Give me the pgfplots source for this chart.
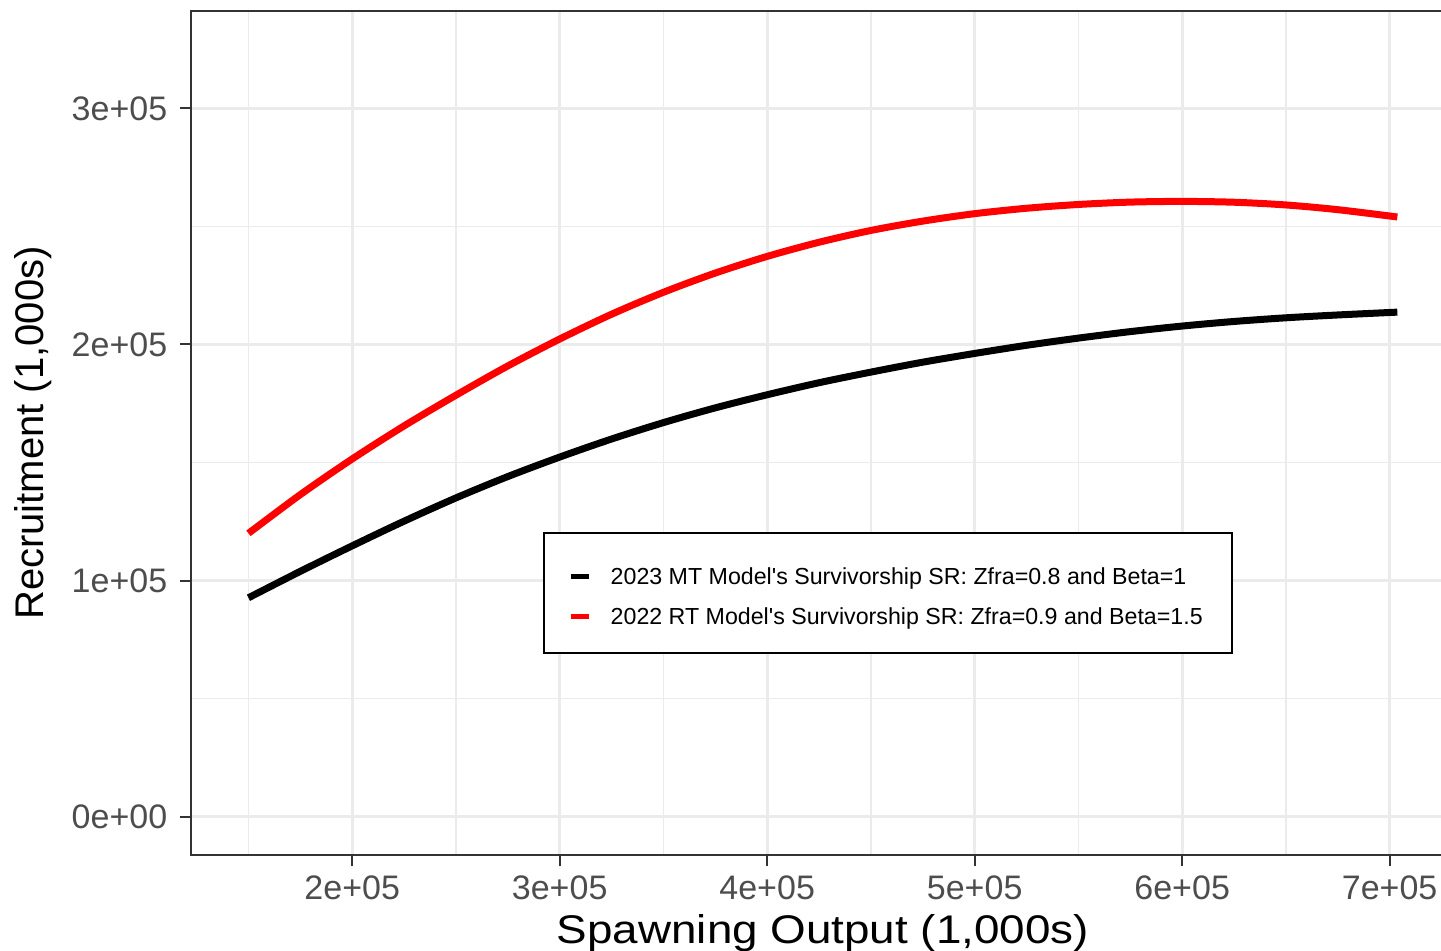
\documentclass[border=0pt]{standalone}
\usepackage{pgfplots}
\pgfplotsset{compat=1.18}
\usepackage{fontspec}
\setmainfont{Liberation Sans}
\newfontfamily\plainfont{Liberation Sans}
\definecolor{gridc}{HTML}{EBEBEB}
\definecolor{borderc}{HTML}{333333}
\definecolor{tickc}{HTML}{4D4D4D}
\definecolor{ggred}{HTML}{FF0000}
\begin{document}
\begin{tikzpicture}
\useasboundingbox (-95.5pt,-47.5pt) rectangle (625pt,427.5pt);
\begin{axis}[
  at={(0,0)}, anchor=south west,
  scale only axis,
  width=631.9pt, height=422pt,
  xmin=122315, xmax=731385,
  ymin=-16250, ymax=341250,
  xtick={200000,300000,400000,500000,600000,700000},
  xticklabels={2e+05,3e+05,4e+05,5e+05,6e+05,7e+05},
  ytick={0,100000,200000,300000},
  yticklabels={0e+00,1e+05,2e+05,3e+05},
  minor xtick={150000,250000,350000,450000,550000,650000},
  minor ytick={50000,150000,250000},
  scaled ticks=false,
  grid=both,
  major grid style={draw=gridc, line width=1.5pt},
  minor grid style={draw=gridc, line width=0.8pt},
  tick align=outside,
  tick pos=left,
  major tick length=5.5pt,
  minor tick length=0pt,
  tick style={draw=borderc, line width=1pt},
  axis line style={draw=borderc, line width=1pt},
  ticklabel style={font=\fontsize{17pt}{20pt}\selectfont, text=tickc, inner sep=0pt},
  xticklabel style={anchor=base, yshift=-16.9pt},
  yticklabel style={anchor=east, xshift=-6.2pt},
  xlabel={\scalebox{1.145}[1]{Spawning Output (1,000s)}},
  ylabel={Recruitment (1,000s)},
  label style={font=\fontsize{20pt}{24pt}\selectfont, text=black, inner sep=0pt},
  xlabel style={at={(axis description cs:0.5,-0.10462)}, anchor=base},
  ylabel style={at={(axis description cs:-0.11671,0.5)}, anchor=base},
  legend style={at={(axis description cs:0.29871,0.34040)}, anchor=north west,
    draw=none, fill=none, inner sep=0pt, row sep=11.7pt, column sep=9.5pt,
    font=\plainfont\fontsize{11.6pt}{13pt}\selectfont,
    nodes={inner sep=0pt, text height=8.3pt, text depth=0pt}},
  legend cell align=left,
  legend image code/.code={\draw[line width=2.4pt] (0pt,0pt) -- (9pt,0pt);},
]
\draw[black, line width=0.75pt, fill=white] (axis description cs:0.27932,0.23934) rectangle (axis description cs:0.82371,0.38152);
\addplot[black, line width=3.5pt, smooth] coordinates {
(150000,92700) (175000,103900) (200000,114700) (225000,125150) (250000,135000)
(275000,144050) (300000,152300) (325000,159950) (350000,166900) (375000,173150)
(400000,178700) (425000,183800) (450000,188300) (475000,192500) (500000,196200)
(525000,199650) (550000,202700) (575000,205450) (600000,207800) (625000,209750)
(650000,211300) (675000,212500) (703700,213700)};
\addlegendentry{2023 MT Model's Survivorship SR: Zfra=0.8 and Beta=1}
\addplot[ggred, line width=3.5pt, smooth] coordinates {
(150000,120000) (175000,136400) (200000,151500) (225000,165500) (250000,178500)
(275000,190900) (300000,202300) (325000,212800) (350000,222100) (375000,230250)
(400000,237300) (425000,243300) (450000,248300) (475000,252250) (500000,255400)
(525000,257700) (550000,259300) (575000,260300) (600000,260600) (625000,260250)
(650000,259100) (675000,257100) (703700,254000)};
\addlegendentry{2022 RT Model's Survivorship SR: Zfra=0.9 and Beta=1.5}
\end{axis}
\end{tikzpicture}
\end{document}
